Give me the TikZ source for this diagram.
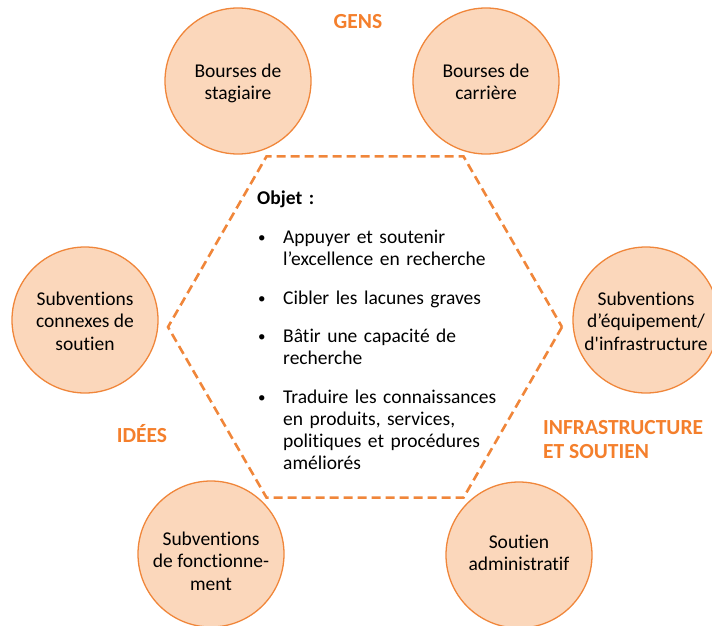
\documentclass[tikz,border=0pt]{standalone}
\usepackage{fontspec}
\setmainfont{Carlito}[Ligatures={TeX,NoCommon}]
\usetikzlibrary{positioning}
\definecolor{peach}{HTML}{FBD7BB}
\definecolor{ringorange}{HTML}{F0863A}
\definecolor{headorange}{HTML}{F47F2C}
% centred lines, lowered a little inside the circle
\newcommand{\circtext}[2][3pt]{\raisebox{-#1}[\height][\depth]{\begin{tabular}{@{}c@{}}#2\end{tabular}}}
\tikzset{
  % funding circles
  fund/.style={circle, draw=ringorange, fill=peach, line width=1.3pt,
               minimum size=146pt, inner sep=0pt, align=center,
               font=\fontsize{19.5}{22.5}\selectfont},
  % orange group headings
  group/.style={font=\fontsize{21.5}{24}\selectfont\bfseries, text=headorange,
                align=left, inner sep=0pt},
  % dashed hexagon in the middle
  hexline/.style={draw=ringorange, line width=2.6pt, dash pattern=on 9pt off 5pt},
  % bullet list inside the hexagon
  goal/.style={anchor=base west, inner sep=0pt, text width=230pt, align=left,
               font=\fontsize{19.5}{22}\selectfont},
  dot/.style={anchor=base west, inner sep=0pt, font=\fontsize{15}{22}\selectfont},
}
\begin{document}
\begin{tikzpicture}[x=1pt, y=-1pt]
\useasboundingbox (0,0) rectangle (712,626);

% -- Hexagon ------------------------------------------------------------------
\coordinate (hexc) at (365,327);
\draw[hexline] (hexc) +(0:197) -- +(60:197) -- +(120:197) -- +(180:197)
  -- +(240:197) -- +(300:197) -- cycle;

% -- Circles ------------------------------------------------------------------
\node[fund] (stagiaire) at (238,81)  {\circtext{Bourses de\\stagiaire}};
\node[fund] (carriere)  at (486,81)  {\circtext{Bourses de\\carrière}};
\node[fund] (connexes)  at (85,320)  {\circtext{Subventions\\connexes de\\soutien}};
\node[fund] (equip)     at (646,320) {\circtext{Subventions\\d’équipement/\\d\textquotesingle infrastructure}};
\node[fund] (fonct)     at (211,554) {\circtext[9pt]{Subventions\\de fonctionne-\\ment}};
\node[fund] (admin)     at (519,555) {\circtext[0pt]{Soutien\\administratif}};

% -- Headings -----------------------------------------------------------------
\node[group] (gens)   at (358,22)  {GENS};
\node[group] (idees)  at (142,434) {IDÉES};
\node[group, anchor=west] (infra) at (543,440) {INFRASTRUCTURE\\ET SOUTIEN};

% -- Objectives ---------------------------------------------------------------
\node[goal] (objet) at (257,204) {\bfseries Objet :};

\node[dot]  (d1) at (258,242) {•};
\node[goal] (g1) at (283,243) {Appuyer et soutenir\\l’excellence en recherche};
\node[dot]  (d2) at (258,303) {•};
\node[goal] (g2) at (283,304) {Cibler les lacunes graves};
\node[dot]  (d3) at (258,341) {•};
\node[goal] (g3) at (283,342) {Bâtir une capacité de\\recherche};
\node[dot]  (d4) at (258,402) {•};
\node[goal] (g4) at (283,403) {Traduire les connaissances\\en produits, services,\\politiques et procédures\\améliorés};

\end{tikzpicture}
\end{document}
